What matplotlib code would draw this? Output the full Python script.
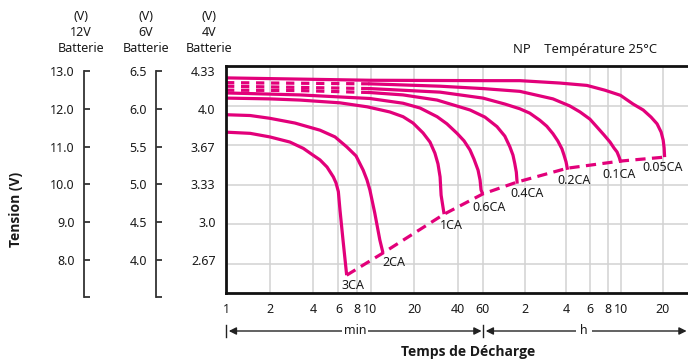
import numpy as np
import matplotlib
matplotlib.use("Agg")
import matplotlib.pyplot as plt
from matplotlib.transforms import blended_transform_factory
from matplotlib.lines import Line2D

plt.rcParams['font.family'] = ['Noto Sans', 'DejaVu Sans']

# ---------------- data (time in minutes, voltage in 12V-battery units) -------------
rates = ['3CA', '2CA', '1CA', '0.6CA', '0.4CA', '0.2CA', '0.1CA', '0.05CA']

t_3CA = [1, 1.47, 2.01, 2.77, 3.43, 4.0, 4.47, 5.0, 5.53, 5.77, 5.99, 6.15, 6.45, 6.84]
v_3CA = [11.33, 11.30, 11.21, 11.08, 10.92, 10.75, 10.63, 10.45, 10.20, 10.05, 9.83, 9.36, 8.61, 7.72]

t_2CA = [1, 1.47, 2.01, 3.0, 4.47, 5.68, 6.84, 7.94, 8.90, 9.46, 9.9, 10.7, 11.6, 12.2]
v_2CA = [11.77, 11.75, 11.68, 11.56, 11.38, 11.21, 10.96, 10.73, 10.37, 10.12, 9.87, 9.29, 8.61, 8.28]

t_1CA = [1, 2.01, 3.25, 6.15, 9.46, 13.6, 16.8, 19.7, 23.1, 25.8, 27.9, 29.3, 30.3, 30.8, 32.3]
v_1CA = [12.19, 12.17, 12.14, 12.07, 11.97, 11.84, 11.72, 11.56, 11.31, 11.08, 10.80, 10.53, 10.20, 9.74, 9.26]

t_06CA = [1, 3.25, 9.9, 16.8, 22.0, 28.9, 33.8, 39.7, 44.4, 48.8, 52.0, 55.5, 57.3, 58.2, 59.8]
v_06CA = [12.32, 12.27, 12.18, 12.06, 11.94, 11.72, 11.54, 11.30, 11.11, 10.88, 10.65, 10.37, 10.12, 9.87, 9.77]

t_04CA = [1, 3.25, 9.9, 16.8, 28.9, 48.8, 62, 75.8, 86.4, 94, 99, 102, 104.7, 106]
v_04CA = [12.39, 12.38, 12.33, 12.27, 12.14, 11.89, 11.71, 11.47, 11.23, 10.96, 10.75, 10.54, 10.32, 10.07]

t_02CA = [1, 9.9, 30.3, 60, 86.4, 111, 131, 155, 174, 193, 209, 224, 232, 240, 245]
v_02CA = [12.49, 12.43, 12.34, 12.19, 12.04, 11.92, 11.81, 11.63, 11.48, 11.29, 11.11, 10.91, 10.75, 10.58, 10.42]

t_01CA = [1, 9.9, 30.3, 60, 111, 193, 256, 303, 357, 402, 452, 500, 534, 562, 582, 595]
v_01CA = [12.58, 12.55, 12.49, 12.43, 12.36, 12.17, 11.99, 11.84, 11.66, 11.46, 11.26, 11.08, 10.93, 10.83, 10.70, 10.60]

t_005CA = [1, 9.9, 60, 111, 216, 340, 458, 595, 734, 869, 991, 1096, 1173, 1213, 1233, 1243]
v_005CA = [12.70, 12.64, 12.63, 12.63, 12.57, 12.51, 12.39, 12.26, 12.04, 11.89, 11.71, 11.54, 11.33, 11.13, 10.93, 10.70]

curves_t = [t_3CA, t_2CA, t_1CA, t_06CA, t_04CA, t_02CA, t_01CA, t_005CA]
curves_v = [v_3CA, v_2CA, v_1CA, v_06CA, v_04CA, v_02CA, v_01CA, v_005CA]
dashed_rates = ['0.4CA', '0.2CA', '0.1CA']   # early part drawn dashed
dash_until = 9.9                               # minutes

# axis tick values / labels
y_ticks_12v = [13.0, 12.0, 11.0, 10.0, 9.0, 8.0]
labels_12v = ['13.0', '12.0', '11.0', '10.0', '9.0', '8.0']
labels_6v = ['6.5', '6.0', '5.5', '5.0', '4.5', '4.0']
labels_4v = ['4.33', '4.0', '3.67', '3.33', '3.0', '2.67']
x_ticks = [1, 2, 4, 6, 8, 10, 20, 40, 60, 120, 240, 360, 480, 600, 1200]
x_labels = ['1', '2', '4', '6', '8', '10', '20', '40', '60', '2', '4', '6', '8', '10', '20']

# ---------------- style -------------
MAG = '#E2007A'
TXT = '#1a1a1a'
BOLD_FONT = ['Open Sans', 'Lato', 'DejaVu Sans']
W, H = 688, 363
fig = plt.figure(figsize=(W / 100, H / 100), dpi=100)


def fx(px):
    return px / W


def fy(py):
    return 1 - py / H


# main axes
ax = fig.add_axes([fx(226), fy(293), fx(688) - fx(226), fy(66) - fy(293)])

L60 = np.log10(60)
K = 0.955


def fwd(t):
    t = np.asarray(t, dtype=float)
    lt = np.log10(np.clip(t, 1e-9, None))
    return np.where(lt <= L60, lt, L60 + (lt - L60) * K)


def inv(f):
    f = np.asarray(f, dtype=float)
    return np.where(f <= L60, 10 ** f, 10 ** (L60 + (f - L60) / K))


ax.set_xscale('function', functions=(fwd, inv))
ax.set_xlim(1, 1836)
ax.set_ylim(7.27, 13.0)
ax.set_xticks(x_ticks)
ax.set_xticklabels(x_labels)
ax.xaxis.set_minor_locator(matplotlib.ticker.NullLocator())
ax.set_yticks(y_ticks_12v)
ax.set_yticklabels([])
ax.tick_params(axis='both', length=0)
ax.tick_params(axis='x', pad=7, labelsize=9, labelcolor=TXT)
ax.grid(True, color='#d2d2d2', lw=1.1)
ax.set_axisbelow(True)
for s in ['left', 'bottom', 'top']:
    ax.spines[s].set_linewidth(2.0)
    ax.spines[s].set_color('#111111')
ax.spines['right'].set_visible(False)

# curves
for name, ts, vs in zip(rates, curves_t, curves_v):
    ts = np.array(ts)
    vs = np.array(vs)
    if name in dashed_rates:
        m1 = ts <= dash_until
        m2 = ts >= dash_until
        ax.plot(ts[m1], vs[m1], color=MAG, lw=2.3, dashes=(2.6, 2.1), solid_capstyle='butt')
        ax.plot(ts[m2], vs[m2], color=MAG, lw=2.3, solid_joinstyle='round')
    else:
        ax.plot(ts, vs, color=MAG, lw=2.3, solid_joinstyle='round', solid_capstyle='butt')

# end-of-discharge dashed line
end_t = [c[-1] for c in curves_t]
end_v = [c[-1] for c in curves_v]
ax.plot(end_t, end_v, color=MAG, lw=2.3, dashes=(3.2, 2.0), solid_capstyle='butt')

# rate labels (pixel offsets from curve end)
label_offsets = [(-5, -10), (-1, -10), (-4, -11), (-10, -14), (-7, -11), (-10, -12), (-18, -13), (-22, -10)]
for name, t, v, off in zip(rates, end_t, end_v, label_offsets):
    ax.annotate(name, (t, v), xytext=off, textcoords='offset pixels',
                ha='left', va='center', fontsize=9, color=TXT, annotation_clip=False)

# side voltage scales
side_bottom, side_top = 297, 71
side_ylim = (7.02, 13.0)


def side_axis(xpix, labels, show_spine=True, pad=6.5):
    a = fig.add_axes([fx(xpix), fy(side_bottom), 0.0005, fy(side_top) - fy(side_bottom)])
    a.set_ylim(*side_ylim)
    a.set_xticks([])
    a.patch.set_visible(False)
    for s in ['right', 'top', 'bottom']:
        a.spines[s].set_visible(False)
    a.set_yticks(y_ticks_12v)
    a.set_yticklabels(labels)
    if show_spine:
        a.spines['left'].set_color('#333333')
        a.spines['left'].set_linewidth(1.3)
        a.set_yticks([side_ylim[0]], minor=True)
        a.tick_params(axis='y', which='both', direction='in', length=4, width=1.3,
                      color='#333333', pad=pad, labelsize=9, labelcolor=TXT)
    else:
        a.spines['left'].set_visible(False)
        a.tick_params(axis='y', length=0, pad=pad, labelsize=9, labelcolor=TXT)
    return a


side_axis(84, labels_12v)
side_axis(156, labels_6v)
side_axis(226, labels_4v, show_spine=False, pad=7.5)

# headers
for xc, volt in [(81, '12V'), (146, '6V'), (209, '4V')]:
    fig.text(fx(xc), fy(32), '(V)\n' + volt + '\nBatterie', ha='center', va='center',
             fontsize=9, color=TXT, linespacing=1.3)

fig.text(fx(513), fy(50), 'NP    Température 25°C', ha='left', va='center', fontsize=9.4, color=TXT)

fig.text(fx(16), fy(209), 'Tension (V)', rotation=90, ha='center', va='center',
         fontsize=10, fontweight='bold', color=TXT, family=BOLD_FONT)
fig.text(fx(468), fy(352), 'Temps de Décharge', ha='center', va='center',
         fontsize=10, fontweight='bold', color=TXT, family=BOLD_FONT)

# min / h arrows
trans = blended_transform_factory(ax.transData, fig.transFigure)
ya = fy(331)
for a_, b_ in [(1, 60), (60, 1836)]:
    ax.annotate('', xy=(b_, ya), xytext=(a_, ya), xycoords=trans, textcoords=trans,
                arrowprops=dict(arrowstyle='<|-|>', color='#222222', lw=1.0,
                                shrinkA=2, shrinkB=1, mutation_scale=11),
                annotation_clip=False)
for xb in [1, 60]:
    fig.add_artist(Line2D([xb, xb], [fy(325), fy(337)], transform=trans, color='#222222', lw=1.0))

fig.text(fx(355), ya, 'min', ha='center', va='center', fontsize=9, color=TXT,
         bbox=dict(fc='white', ec='none', pad=1.5))
fig.text(fx(584), ya, 'h', ha='center', va='center', fontsize=9, color=TXT,
         bbox=dict(fc='white', ec='none', pad=3))

fig.savefig('out.png', dpi=100)
